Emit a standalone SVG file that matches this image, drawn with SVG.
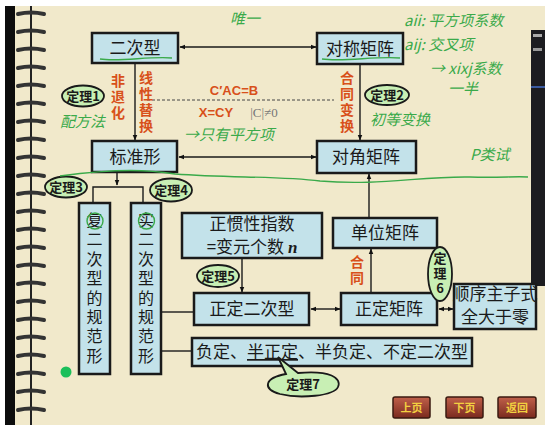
<svg xmlns="http://www.w3.org/2000/svg" width="545" height="425" viewBox="0 0 545 425">
<defs>
<marker id="ah" viewBox="0 0 10 10" refX="9" refY="5" markerWidth="6" markerHeight="6" orient="auto-start-reverse" markerUnits="userSpaceOnUse">
<path d="M0,1 L10,5 L0,9 z" fill="#111"/>
</marker>
<linearGradient id="btn" x1="0" y1="0" x2="0" y2="1">
<stop offset="0" stop-color="#c0604a"/>
<stop offset="1" stop-color="#7a2a1e"/>
</linearGradient>
<g id="ring">
<path d="M18,0 Q31,-3 44,0" stroke="#333" stroke-width="4" fill="none" stroke-linecap="round"/>
</g>
</defs>
<style>
.box{fill:#c3e2ea;stroke:#1a1a1a;stroke-width:2.5}
.t{font-family:"Noto Sans CJK SC","Noto Sans",sans-serif;font-size:17px;fill:#1a1a1a;text-anchor:middle}
.vt{font-family:"Noto Sans CJK SC","Noto Sans",sans-serif;font-size:16px;fill:#1a1a1a;writing-mode:vertical-rl;text-orientation:upright;letter-spacing:3.4px}
.red{font-family:"Noto Sans CJK SC","Liberation Sans",sans-serif;font-size:14px;font-weight:bold;fill:#d8501a;writing-mode:vertical-rl;text-orientation:upright;letter-spacing:2px}
.ell{fill:#c8efb4;stroke:#1a1a1a;stroke-width:1.8}
.th{font-family:"Noto Sans CJK SC","Noto Sans",sans-serif;font-size:13px;font-weight:bold;fill:#1a1a1a;text-anchor:middle}
.thv{font-family:"Noto Sans CJK SC","Noto Sans",sans-serif;font-size:13px;font-weight:bold;fill:#1a1a1a;writing-mode:vertical-rl;text-orientation:upright;letter-spacing:2px}
.ln{stroke:#1a1a1a;stroke-width:1.4;fill:none}
.arr{stroke:#1a1a1a;stroke-width:1.4;fill:none;marker-end:url(#ah)}
.arr2{stroke:#1a1a1a;stroke-width:1.4;fill:none;marker-end:url(#ah);marker-start:url(#ah)}
.hw{font-family:"Noto Sans CJK SC",sans-serif;font-size:15px;fill:#3aaa4a;font-style:italic}
.hwl{stroke:#3aaa4a;stroke-width:1.4;fill:none}
.bt{font-family:"Noto Sans CJK SC",sans-serif;font-size:11px;font-weight:bold;fill:#f2d040;text-anchor:middle}
</style>

<!-- background -->
<rect x="0" y="0" width="545" height="425" fill="#f1e9cb"/>
<rect x="0" y="0" width="545" height="6" fill="#ffffff"/>
<rect x="0" y="0" width="5" height="425" fill="#ffffff"/>
<rect x="5" y="6" width="10" height="419" fill="#0d0d0d"/>
<line x1="31" y1="6" x2="31" y2="425" stroke="#222" stroke-width="2"/>
<g id="spiral">
<use href="#ring" y="14"/><use href="#ring" y="32"/><use href="#ring" y="50"/><use href="#ring" y="68"/>
<use href="#ring" y="86"/><use href="#ring" y="104"/><use href="#ring" y="122"/><use href="#ring" y="140"/>
<use href="#ring" y="158"/><use href="#ring" y="176"/><use href="#ring" y="194"/><use href="#ring" y="212"/>
<use href="#ring" y="230"/><use href="#ring" y="248"/><use href="#ring" y="266"/><use href="#ring" y="284"/>
<use href="#ring" y="302"/><use href="#ring" y="320"/><use href="#ring" y="338"/><use href="#ring" y="356"/>
<use href="#ring" y="374"/><use href="#ring" y="392"/><use href="#ring" y="410"/>
</g>
<g id="side-panel">
<rect x="531" y="30" width="14" height="256" fill="#1c1c20"/>
<rect x="531" y="86" width="14" height="2" fill="#3a5aa0"/>
<rect x="533" y="34" width="9" height="3" fill="#aaa"/>
<rect x="533" y="48" width="9" height="3" fill="#999"/>
</g>

<!-- connectors -->
<g id="connectors">
<line class="arr2" x1="180" y1="47" x2="316" y2="47"/>
<line class="arr" x1="135" y1="64" x2="135" y2="140"/>
<line class="arr" x1="360" y1="65" x2="360" y2="140"/>
<line class="arr2" x1="179" y1="157" x2="316" y2="157"/>
<line x1="147" y1="100" x2="334" y2="100" stroke="#444" stroke-width="1" stroke-dasharray="3,2"/>
<line class="arr" x1="117" y1="173" x2="117" y2="185"/>
<polyline class="ln" points="93,203 93,187 143,187 143,203"/>
<line class="arr" x1="369" y1="217" x2="369" y2="174"/>
<line class="arr" x1="371" y1="292" x2="371" y2="249"/>
<line class="arr" x1="242" y1="259" x2="242" y2="292"/>
<line class="arr2" x1="311" y1="309" x2="340" y2="309"/>
<line class="arr2" x1="439" y1="309" x2="453" y2="309"/>
<line class="ln" x1="162" y1="312" x2="194" y2="312"/>
<line class="ln" x1="162" y1="351" x2="192" y2="351"/>
</g>

<!-- edge labels -->
<g id="labels">
<text class="red" x="118" y="74">非退化</text>
<text class="red" x="146" y="71">线性替换</text>
<text class="red" x="347" y="71">合同变换</text>
<text class="red" x="357" y="255">合同</text>
<text x="234" y="95" font-family="Liberation Sans,sans-serif" font-size="13" font-weight="bold" fill="#d8501a" text-anchor="middle">C′AC=B</text>
<text x="216" y="117" font-family="Liberation Sans,sans-serif" font-size="13" font-weight="bold" fill="#d8501a" text-anchor="middle">X=CY</text>
<text x="264" y="117" font-family="Liberation Serif,serif" font-size="13" fill="#777" text-anchor="middle">|C|≠0</text>
</g>

<!-- nodes -->
<g id="n-erci"><rect class="box" x="92" y="33" width="86" height="30"/><text class="t" x="135" y="54">二次型</text></g>
<g id="n-duichen"><rect class="box" x="317" y="33" width="86" height="31"/><text class="t" x="360" y="55">对称矩阵</text></g>
<g id="n-biaozhun"><rect class="box" x="92" y="141" width="85" height="31"/><text class="t" x="135" y="163">标准形</text></g>
<g id="n-duijiao"><rect class="box" x="317" y="141" width="99" height="32"/><text class="t" x="366" y="163">对角矩阵</text></g>
<g id="n-zhengguan"><rect class="box" x="182" y="213" width="140" height="45"/><text class="t" x="252" y="230" font-size="15.5">正惯性指数</text><text class="t" x="252" y="253" font-size="15.5">=变元个数 <tspan font-family="Liberation Serif,serif" font-style="italic" font-weight="bold">n</tspan></text></g>
<g id="n-danwei"><rect class="box" x="333" y="218" width="104" height="30"/><text class="t" x="385" y="239">单位矩阵</text></g>
<g id="n-fu"><rect class="box" x="79" y="203" width="31" height="171"/><text class="vt" x="94.5" y="212">复二次型的规范形</text></g>
<g id="n-shi"><rect class="box" x="131" y="203" width="30" height="171"/><text class="vt" x="146" y="212">实二次型的规范形</text></g>
<g id="n-zhengding"><rect class="box" x="194" y="293" width="115" height="32"/><text class="t" x="252" y="315">正定二次型</text></g>
<g id="n-zdjz"><rect class="box" x="341" y="293" width="96" height="32"/><text class="t" x="389" y="315">正定矩阵</text></g>
<g id="n-shunxu"><rect class="box" x="454" y="284" width="82" height="45"/><text class="t" font-size="14"><tspan x="495" y="300">顺序主子式</tspan><tspan x="495" y="323">全大于零</tspan></text></g>
<g id="n-fuding"><rect class="box" x="192" y="338" width="280" height="28"/><text class="t" x="332" y="358" font-size="15">负定、<tspan text-decoration="underline">半正定</tspan>、半负定、不定二次型</text></g>

<!-- theorem ellipses -->
<g id="th1"><ellipse class="ell" cx="83" cy="96" rx="21" ry="10.5"/><text class="th" x="83" y="101">定理1</text></g>
<g id="th2"><ellipse class="ell" cx="387" cy="95" rx="22" ry="10"/><text class="th" x="387" y="100">定理2</text></g>
<g id="th3"><ellipse class="ell" cx="66" cy="187" rx="21" ry="10.5"/><text class="th" x="66" y="192">定理3</text></g>
<g id="th4"><ellipse class="ell" cx="171" cy="190" rx="21" ry="11.5"/><text class="th" x="171" y="195">定理4</text></g>
<g id="th5"><ellipse class="ell" cx="218" cy="276" rx="21" ry="11"/><text class="th" x="218" y="281">定理5</text></g>
<g id="th6"><ellipse class="ell" cx="440" cy="274" rx="12" ry="27"/><text class="thv" x="440" y="252">定理6</text></g>
<g id="th7"><path class="ell" d="M286,374 L278,357 L298,373 C330,370 342,378 338,387 C334,396 300,399 280,394 C262,389 264,378 286,374 z"/><text class="th" x="303" y="389">定理7</text></g>

<!-- buttons -->
<g id="btn-up"><rect x="393" y="397" width="37" height="21" rx="2" fill="url(#btn)" stroke="#3a1a10" stroke-width="1.5"/><text class="bt" x="411.5" y="412">上页</text></g>
<g id="btn-down"><rect x="446" y="397" width="37" height="21" rx="2" fill="url(#btn)" stroke="#3a1a10" stroke-width="1.5"/><text class="bt" x="464.5" y="412">下页</text></g>
<g id="btn-back"><rect x="498" y="397" width="38" height="21" rx="2" fill="url(#btn)" stroke="#3a1a10" stroke-width="1.5"/><text class="bt" x="517" y="412">返回</text></g>

<circle cx="66" cy="372" r="5.5" fill="#1bbf5a"/>

<!-- handwritten annotations -->
<g id="handwriting">
<path class="hwl" d="M60,176 C120,168 150,170 175,174 C230,178 280,176 320,181 C380,186 420,176 470,177 C500,178 515,176 528,177"/>
<path class="hwl" d="M100,59 C120,62 150,56 172,58"/>
<path class="hwl" d="M322,59 C345,62 375,56 400,58"/>
<circle class="hwl" cx="95" cy="221" r="8"/>
<circle class="hwl" cx="146.5" cy="221" r="8"/>
<text class="hw" x="230" y="24" font-size="18">唯一</text>
<text class="hw" x="404" y="26">aii: 平方项系数</text>
<text class="hw" x="404" y="50">aij: 交叉项</text>
<text class="hw" x="430" y="74">→ xixj系数</text>
<text class="hw" x="448" y="94">一半</text>
<text class="hw" x="60" y="127">配方法</text>
<text class="hw" x="184" y="140">→只有平方项</text>
<text class="hw" x="370" y="125">初等变换</text>
<text class="hw" x="470" y="160" font-size="20">P类试</text>
</g>
</svg>
